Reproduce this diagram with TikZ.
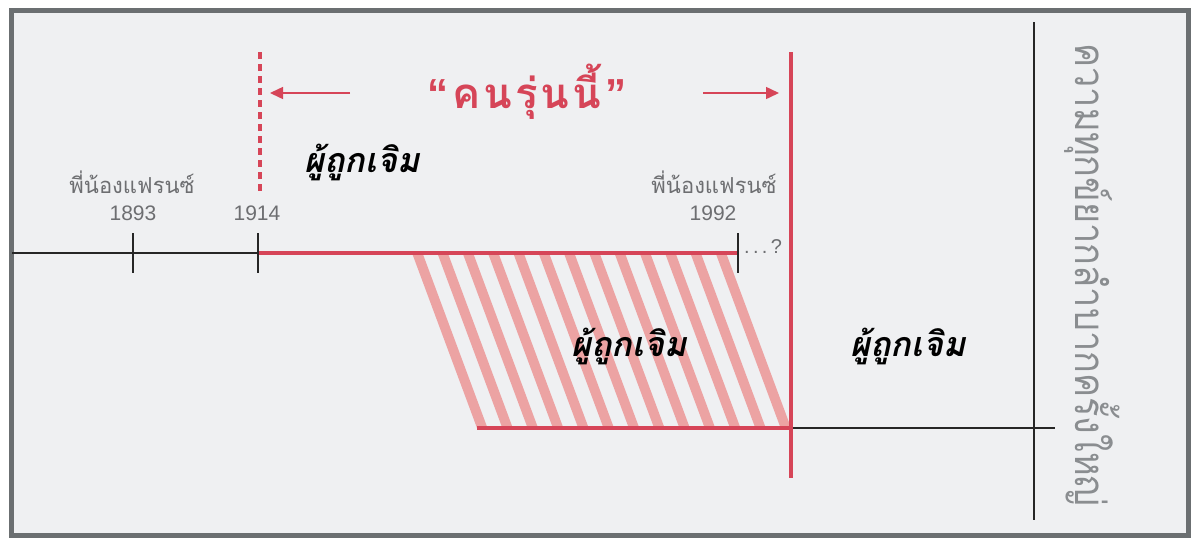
\documentclass[tikz,border=0pt]{standalone}
\usepackage{fontspec}
\setmainfont{Liberation Sans}
\newfontfamily\thaifont[Script=Thai]{Loma}
\usetikzlibrary{arrows.meta}
\definecolor{linered}{HTML}{D64558}
\definecolor{stripepink}{HTML}{ECA3A3}
\definecolor{panelgray}{HTML}{EFF0F2}
\definecolor{framegray}{HTML}{6B6F71}
\definecolor{labelgray}{HTML}{6D6E71}
\definecolor{sidegray}{HTML}{8A8D90}
\tikzset{
  blackline/.style={black!85, line width=2.5},
  redline/.style={linered, line width=4},
  yeartext/.style={labelgray, inner sep=0, anchor=base, font=\fontsize{21}{21}\selectfont},
  nametext/.style={labelgray, inner sep=0, anchor=base, font=\thaifont\fontsize{22}{22}\selectfont},
  chosentext/.style={black, inner sep=0, font=\thaifont\bfseries\itshape\fontsize{34}{34}\selectfont},
}
\begin{document}
\begin{tikzpicture}[x=1pt,y=-1pt]
  \useasboundingbox (0,0) rectangle (1200,547);
  % frame
  \filldraw[fill=panelgray, draw=framegray, line width=5] (11.5,10) rectangle (1188.5,535);

  % hatched band
  \foreach \i in {0,...,12}
    \fill[stripepink] ({412+25.3*\i},253) -- ++(10.5,0) -- ++(65,175) -- ++(-10.5,0) -- cycle;

  % points of the lines
  \coordinate (tl) at (12,253);
  \coordinate (t1893) at (133,253);
  \coordinate (t1914) at (258,253);
  \coordinate (t1992) at (738,253);
  \coordinate (gtop) at (791,52);
  \coordinate (gbot) at (791,478);
  \coordinate (bl) at (477,428);
  \coordinate (bm) at (791,428);
  \coordinate (br) at (1055,428);
  \coordinate (ctop) at (1034,22);
  \coordinate (cbot) at (1034,520);
  \coordinate (dtop) at (260,52);
  \coordinate (dbot) at (260,192);

  % timelines
  \draw[blackline] (tl) -- (t1914);
  \draw[redline] (t1914) -- (t1992);
  \foreach \p in {t1893,t1914,t1992}
    \draw[blackline] ([yshift=20]\p) -- ([yshift=-20]\p);
  \draw[redline] (bl) -- (bm);
  \draw[blackline] (bm) -- (br);
  \draw[blackline] (ctop) -- (cbot);
  \draw[redline, dash pattern=on 7 off 5] (dtop) -- (dbot);
  \draw[redline] (gtop) -- (gbot);

  % generation arrows
  \coordinate (la) at (350,93);
  \coordinate (lb) at (270,93);
  \coordinate (ra) at (703,93);
  \coordinate (rb) at (779,93);
  \draw[linered, line width=1.5, -{Triangle[length=13,width=12]}] (la) -- (lb);
  \draw[linered, line width=1.5, -{Triangle[length=13,width=12]}] (ra) -- (rb);

  % labels
  \node[linered, inner sep=0, font=\thaifont\bfseries\fontsize{42}{42}\selectfont] (gen) at (527,92) {{\rmfamily“}\kern4pt ค\kern3pt น\kern3pt รุ่\kern3pt น\kern3pt นี้\kern4pt {\rmfamily”}};
  \node[nametext] (fr1) at (132,193) {พี่น้องแฟรนซ์};
  \node[yeartext] (y1893) at (133,220) {1893};
  \node[yeartext] (y1914) at (257,220) {1914};
  \node[nametext] (fr2) at (714,193) {พี่น้องแฟรนซ์};
  \node[yeartext] (y1992) at (713,220) {1992};
  \node[labelgray, inner sep=0, font=\fontsize{20}{20}\selectfont, anchor=base west] (unk) at (744,253) {.\,.\,.\,?};
  \node[chosentext] (ch1) at (362,162) {ผู้ถูกเจิม};
  \node[chosentext] (ch2) at (629,346) {ผู้ถูกเจิม};
  \node[chosentext] (ch3) at (908,346) {ผู้ถูกเจิม};
  \node[sidegray, inner sep=0, rotate=-90, font=\thaifont\fontsize{42}{42}\selectfont] (crisis) at (1092,275) {\scalebox{0.86}[1]{ความทุกข์ยากลำบากครั้งใหญ่}};
\end{tikzpicture}
\end{document}
